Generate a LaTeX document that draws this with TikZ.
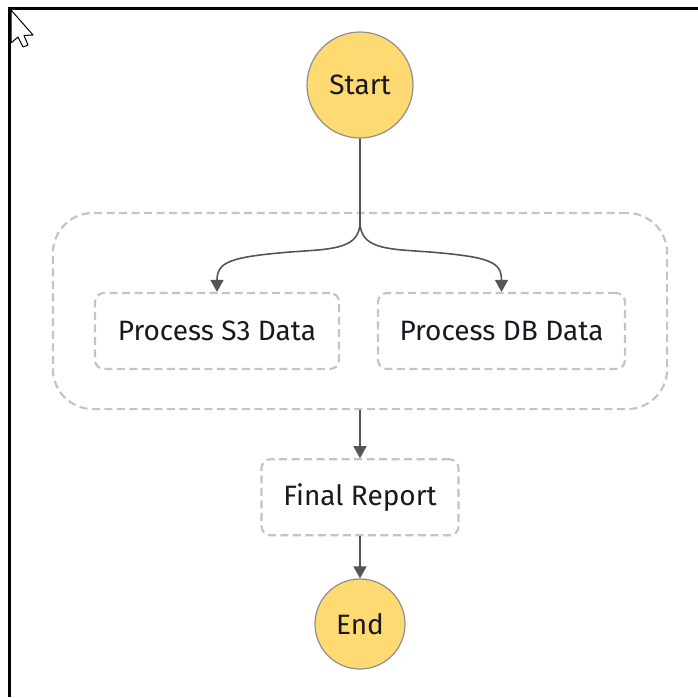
\documentclass[tikz,border=0pt]{standalone}
\usepackage{fontspec}
\setmainfont{Fira Sans}
\usepackage{xcolor}
\usepackage{tikz}
\usetikzlibrary{shapes,arrows.meta,positioning,calc,fit,backgrounds}

\definecolor{stategold}{HTML}{FFD972}
\definecolor{stateedge}{HTML}{8E8E8E}
\definecolor{dashgray}{HTML}{C4C4C4}
\definecolor{flowgray}{HTML}{555555}
\definecolor{labelink}{HTML}{16191F}

\begin{document}
\begin{tikzpicture}[
  x=1pt,y=-1pt,
  font=\fontsize{28}{33}\selectfont,
  text=labelink,
  terminal/.style={circle,draw=stateedge,line width=1.2pt,fill=stategold,
    inner sep=0pt},
  task/.style={draw=dashgray,dash pattern=on 8pt off 4.5pt,line width=2.2pt,
    rounded corners=9pt,minimum height=76pt,align=center},
  group/.style={draw=dashgray,dash pattern=on 8pt off 4.5pt,line width=2.2pt,
    rounded corners=40pt},
  arrow/.style={-{Triangle[length=12pt,width=13pt]},line width=1.6pt,
    draw=flowgray,fill=flowgray},
]
  \useasboundingbox (0,0) rectangle (698,697);
  \draw[line width=2.6pt] (9.5,697) -- (9.5,8.5) -- (698,8.5);
  % pointer in the corner
  \draw[line width=1pt,fill=white,line join=round]
    (11,10) -- (11,43) -- (18,37) -- (23,47) -- (28,45) -- (24,35.5)
    -- (33,35) -- cycle;

  \node[terminal,minimum size=106pt] (start) at (360,85) {Start};
  \node[task,minimum width=244pt] (s3) at (217,331) {Process S3 Data};
  \node[task,minimum width=247pt] (db) at (501.5,331) {Process DB Data};
  \coordinate (gtop) at (360,252);
  \node[group,fit=(gtop)(s3)(db),inner xsep=41pt,inner ysep=39pt] (parallel)
    {};
  \node[task,minimum width=197pt,below=48pt of parallel] (final)
    {Final Report};
  \node[terminal,minimum size=90pt,below=42pt of final] (end) {End};

  \coordinate (fork) at (360,222);
  \draw[arrow,fill=none] (start) -- (fork)
    .. controls +(0,28) and +(40,-3) .. (290,252)
    .. controls +(-60,5) and +(0,-30) .. (s3.north);
  \draw[arrow,fill=none] (fork)
    .. controls +(0,28) and +(-40,-3) .. (430,252)
    .. controls +(60,5) and +(0,-30) .. (db.north);
  \draw[arrow] (parallel) -- (final);
  \draw[arrow] (final) -- (end);
\end{tikzpicture}
\end{document}
